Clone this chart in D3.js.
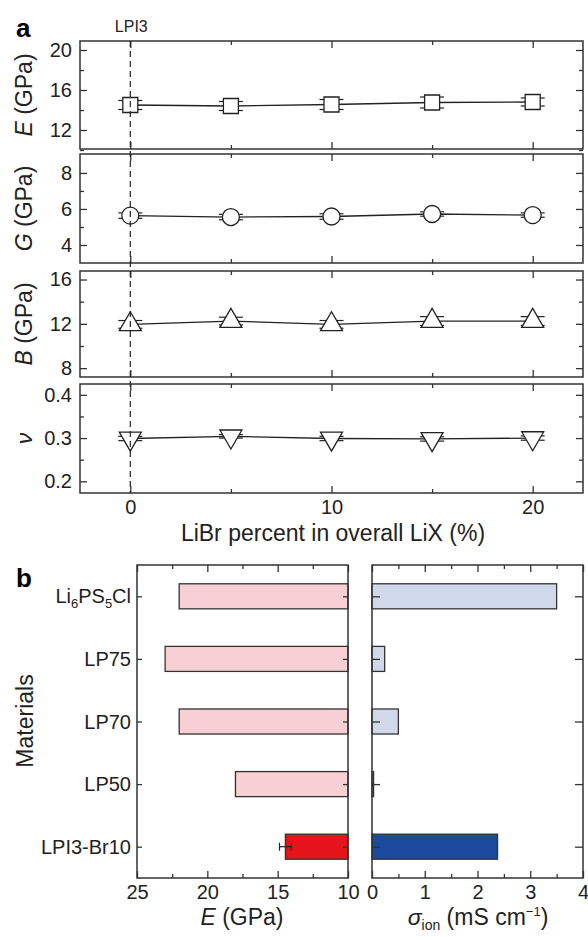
<!DOCTYPE html>
<html>
<head>
<meta charset="utf-8">
<script src="https://cdn.jsdelivr.net/npm/d3@7"></script>
<style>
  html, body { margin: 0; padding: 0; background: #fff; }
  svg { display: block; font-family: "Liberation Sans", Arial, sans-serif; }
  .tick text { font-size: 20px; fill: #222; }
  .tick line { stroke: #333; stroke-width: 1.3; }
</style>
</head>
<body>
<svg id="chart" width="588" height="938"></svg>
<script>
// ---- panel a data (LiBr percent vs moduli) ----
const libr = [0, 5, 10, 15, 20];
const modE = [14.5, 14.4, 14.55, 14.75, 14.8];
const modEErr = [0.45, 0.45, 0.5, 0.55, 0.4];
const modG = [5.63, 5.55, 5.58, 5.72, 5.66];
const modGErr = [0.15, 0.15, 0.15, 0.12, 0.12];
const modB = [11.95, 12.25, 11.95, 12.25, 12.25];
const modBErr = [0.35, 0.35, 0.35, 0.4, 0.4];
const poisson = [0.299, 0.304, 0.299, 0.298, 0.3];
const poissonErr = [0.005, 0.004, 0.005, 0.005, 0.005];

// ---- panel b data (materials comparison) ----
const materials = ["Li6PS5Cl", "LP75", "LP70", "LP50", "LPI3-Br10"];
const youngs = [22, 23, 22, 18, 14.45];
const youngsErr = [0, 0, 0, 0, 0.42];
const sigmaIon = [3.5, 0.24, 0.5, 0.03, 2.38];

const svg = d3.select("#chart");
const frameColor = "#333";

// ============ panel a ============
const xA = d3.scaleLinear().domain([-2.5, 22.5]).range([80, 583]);

const panels = [
  { vals: modE, err: modEErr, top: 41, bottom: 149, domain: [10.1, 20.9],
    major: [12, 16, 20], minor: [10, 14, 18], label: "E", unit: " (GPa)", marker: "square" },
  { vals: modG, err: modGErr, top: 154, bottom: 263, domain: [3, 9.05],
    major: [4, 6, 8], minor: [5, 7], label: "G", unit: " (GPa)", marker: "circle" },
  { vals: modB, err: modBErr, top: 271, bottom: 377, domain: [7.2, 16.77],
    major: [8, 12, 16], minor: [10, 14], label: "B", unit: " (GPa)", marker: "up" },
  { vals: poisson, err: poissonErr, top: 384, bottom: 493, domain: [0.173, 0.425],
    major: [0.2, 0.3, 0.4], minor: [0.25, 0.35], label: "ν", unit: "", marker: "down" }
];

function markerPath(kind) {
  if (kind === "square") return "M-7.5,-7.5H7.5V7.5H-7.5Z";
  if (kind === "circle") return d3.symbol(d3.symbolCircle, Math.PI * 8.5 * 8.5)();
  const w = 11, h = 19;
  if (kind === "up") return `M0,${-2 * h / 3}L${w},${h / 3}L${-w},${h / 3}Z`;
  return `M0,${2 * h / 3}L${w},${-h / 3}L${-w},${-h / 3}Z`;
}

panels.forEach((p, i) => {
  const y = d3.scaleLinear().domain(p.domain).range([p.bottom, p.top]);
  const g = svg.append("g");
  const last = i === panels.length - 1;

  // axes, all ticks inward
  g.append("g").attr("transform", "translate(80,0)")
    .call(d3.axisLeft(y).tickValues(p.major).tickSizeInner(-7).tickSizeOuter(0).tickPadding(8)
      .tickFormat(d => d3.format("")(d)));
  g.append("g").attr("transform", "translate(80,0)")
    .call(d3.axisLeft(y).tickValues(p.minor).tickSizeInner(-4).tickSizeOuter(0).tickFormat(""));
  g.append("g").attr("transform", "translate(583,0)")
    .call(d3.axisRight(y).tickValues(p.major).tickSizeInner(-7).tickSizeOuter(0).tickFormat(""));
  g.append("g").attr("transform", "translate(583,0)")
    .call(d3.axisRight(y).tickValues(p.minor).tickSizeInner(-4).tickSizeOuter(0).tickFormat(""));
  g.append("g").attr("transform", `translate(0,${p.bottom})`)
    .call(d3.axisBottom(xA).tickValues([0, 10, 20]).tickSizeInner(-7).tickSizeOuter(0)
      .tickPadding(7).tickFormat(last ? d3.format("d") : ""));
  g.append("g").attr("transform", `translate(0,${p.bottom})`)
    .call(d3.axisBottom(xA).tickValues([5, 15]).tickSizeInner(-4).tickSizeOuter(0).tickFormat(""));
  g.append("g").attr("transform", `translate(0,${p.top})`)
    .call(d3.axisTop(xA).tickValues([0, 10, 20]).tickSizeInner(-7).tickSizeOuter(0).tickFormat(""));
  g.append("g").attr("transform", `translate(0,${p.top})`)
    .call(d3.axisTop(xA).tickValues([5, 15]).tickSizeInner(-4).tickSizeOuter(0).tickFormat(""));
  g.selectAll(".domain").remove();

  g.append("rect")
    .attr("x", 80).attr("y", p.top)
    .attr("width", 503).attr("height", p.bottom - p.top)
    .attr("fill", "none").attr("stroke", frameColor).attr("stroke-width", 1.5);

  // y title
  const t = g.append("text")
    .attr("transform", `translate(32,${(p.top + p.bottom) / 2}) rotate(-90)`)
    .attr("text-anchor", "middle")
    .attr("font-size", 23).attr("fill", "#222");
  t.append("tspan").attr("font-style", "italic").text(p.label);
  if (p.unit) t.append("tspan").text(p.unit);

  // error bars
  const eb = g.append("g").attr("stroke", "#222").attr("stroke-width", 1.2);
  libr.forEach((xv, k) => {
    const cx = xA(xv);
    const y0 = y(p.vals[k] - p.err[k]), y1 = y(p.vals[k] + p.err[k]);
    eb.append("line").attr("x1", cx).attr("x2", cx).attr("y1", y0).attr("y2", y1);
    eb.append("line").attr("x1", cx - 12).attr("x2", cx + 12).attr("y1", y0).attr("y2", y0);
    eb.append("line").attr("x1", cx - 12).attr("x2", cx + 12).attr("y1", y1).attr("y2", y1);
  });

  // connecting line
  g.append("path")
    .datum(libr.map((xv, k) => [xv, p.vals[k]]))
    .attr("fill", "none").attr("stroke", "#222").attr("stroke-width", 1.3)
    .attr("d", d3.line().x(d => xA(d[0])).y(d => y(d[1])));

  // markers
  g.selectAll(".mk").data(libr).enter().append("path")
    .attr("class", "mk")
    .attr("transform", (xv, k) => `translate(${xA(xv)},${y(p.vals[k])})`)
    .attr("d", markerPath(p.marker))
    .attr("fill", "#fff").attr("stroke", "#222").attr("stroke-width", 1.3);
});

// dashed reference at LPI3
svg.append("line")
  .attr("x1", xA(0)).attr("x2", xA(0)).attr("y1", 41).attr("y2", 493)
  .attr("stroke", "#222").attr("stroke-width", 1.2).attr("stroke-dasharray", "6,4");
svg.selectAll(".mk").raise();

svg.append("text").attr("x", xA(0) + 1).attr("y", 32).attr("text-anchor", "middle")
  .attr("font-size", 16).attr("fill", "#222").text("LPI3");
svg.append("text").attr("x", 333).attr("y", 541).attr("text-anchor", "middle")
  .attr("font-size", 23).attr("fill", "#222").text("LiBr percent in overall LiX (%)");
svg.append("text").attr("x", 16).attr("y", 37).attr("font-size", 26)
  .attr("font-weight", "bold").text("a");

// ============ panel b ============
const yB = d3.scaleBand().domain(materials).range([565, 878]).paddingInner(0.6).paddingOuter(0.3);
const xE = d3.scaleLinear().domain([25, 10]).range([137, 348]);
const xS = d3.scaleLinear().domain([0, 4]).range([372, 583]);
const pink = ["#f8cfd2", "#f8cfd2", "#f8cfd2", "#f8cfd2", "#e3151b"];
const blue = ["#d0d9ea", "#d0d9ea", "#d0d9ea", "#d0d9ea", "#1c4a9f"];

function frameAxes(x, left, right, major, minor, tickLen, fmt) {
  const g = svg.append("g");
  g.append("g").attr("transform", "translate(0,878)")
    .call(d3.axisBottom(x).tickValues(major).tickSizeInner(-7).tickSizeOuter(0).tickPadding(7).tickFormat(fmt));
  g.append("g").attr("transform", "translate(0,878)")
    .call(d3.axisBottom(x).tickValues(minor).tickSizeInner(-4).tickSizeOuter(0).tickFormat(""));
  g.append("g").attr("transform", "translate(0,565)")
    .call(d3.axisTop(x).tickValues(major).tickSizeInner(-7).tickSizeOuter(0).tickFormat(""));
  g.append("g").attr("transform", "translate(0,565)")
    .call(d3.axisTop(x).tickValues(minor).tickSizeInner(-4).tickSizeOuter(0).tickFormat(""));
  const yc = d3.scalePoint().domain(materials).range([yB(materials[0]) + yB.bandwidth() / 2,
    yB(materials[4]) + yB.bandwidth() / 2]);
  g.append("g").attr("transform", `translate(${left},0)`)
    .call(d3.axisLeft(yc).tickSizeInner(-tickLen).tickSizeOuter(0).tickFormat(""));
  g.append("g").attr("transform", `translate(${right},0)`)
    .call(d3.axisRight(yc).tickSizeInner(-tickLen).tickSizeOuter(0).tickFormat(""));
  g.selectAll(".domain").remove();
  return g;
}

// bars E
svg.selectAll(".barE").data(materials).enter().append("rect")
  .attr("x", (d, i) => xE(youngs[i])).attr("y", d => yB(d))
  .attr("width", (d, i) => xE(10) - xE(youngs[i])).attr("height", yB.bandwidth())
  .attr("fill", (d, i) => pink[i]).attr("stroke", "#333").attr("stroke-width", 1.3);
// bars sigma
svg.selectAll(".barS").data(materials).enter().append("rect")
  .attr("x", xS(0)).attr("y", d => yB(d))
  .attr("width", (d, i) => xS(sigmaIon[i]) - xS(0)).attr("height", yB.bandwidth())
  .attr("fill", (d, i) => blue[i]).attr("stroke", "#333").attr("stroke-width", 1.3);

// error bar on E
materials.forEach((m, i) => {
  if (!youngsErr[i]) return;
  const cy = yB(m) + yB.bandwidth() / 2;
  const a = xE(youngs[i] + youngsErr[i]), b = xE(youngs[i] - youngsErr[i]);
  const eg = svg.append("g").attr("stroke", "#222").attr("stroke-width", 1.2);
  eg.append("line").attr("x1", a).attr("x2", b).attr("y1", cy).attr("y2", cy);
  eg.append("line").attr("x1", a).attr("x2", a).attr("y1", cy - 4).attr("y2", cy + 4);
  eg.append("line").attr("x1", b).attr("x2", b).attr("y1", cy - 4).attr("y2", cy + 4);
});

frameAxes(xE, 137, 348, [25, 20, 15, 10], [22.5, 17.5, 12.5], 5, d3.format("d"));
frameAxes(xS, 372, 583, [0, 1, 2, 3, 4], [0.5, 1.5, 2.5, 3.5], 8, d3.format("d"));
svg.append("rect").attr("x", 137).attr("y", 565).attr("width", 211).attr("height", 313)
  .attr("fill", "none").attr("stroke", frameColor).attr("stroke-width", 1.5);
svg.append("rect").attr("x", 372).attr("y", 565).attr("width", 211).attr("height", 313)
  .attr("fill", "none").attr("stroke", frameColor).attr("stroke-width", 1.5);

// category labels
materials.forEach(m => {
  const t = svg.append("text").attr("x", 131).attr("y", yB(m) + yB.bandwidth() / 2 + 7)
    .attr("text-anchor", "end").attr("font-size", 20).attr("fill", "#222");
  if (m === "Li6PS5Cl") {
    t.append("tspan").text("Li");
    t.append("tspan").attr("font-size", 13).attr("dy", 5).text("6");
    t.append("tspan").attr("dy", -5).text("PS");
    t.append("tspan").attr("font-size", 13).attr("dy", 5).text("5");
    t.append("tspan").attr("dy", -5).text("Cl");
  } else {
    t.text(m);
  }
});

svg.append("text").attr("transform", "translate(33,721) rotate(-90)").attr("text-anchor", "middle")
  .attr("font-size", 23).attr("fill", "#222").text("Materials");

const te = svg.append("text").attr("x", 242).attr("y", 925).attr("text-anchor", "middle")
  .attr("font-size", 23).attr("fill", "#222");
te.append("tspan").attr("font-style", "italic").text("E");
te.append("tspan").text(" (GPa)");

const ts = svg.append("text").attr("x", 478).attr("y", 925).attr("text-anchor", "middle")
  .attr("font-size", 23).attr("fill", "#222");
ts.append("tspan").attr("font-style", "italic").text("σ");
ts.append("tspan").attr("font-size", 14).attr("dy", 5).text("ion");
ts.append("tspan").attr("dy", -5).text(" (mS cm");
ts.append("tspan").attr("font-size", 13).attr("dy", -9).text("−1");
ts.append("tspan").attr("dy", 9).text(")");

svg.append("text").attr("x", 16).attr("y", 587).attr("font-size", 26)
  .attr("font-weight", "bold").text("b");
</script>
</body>
</html>
